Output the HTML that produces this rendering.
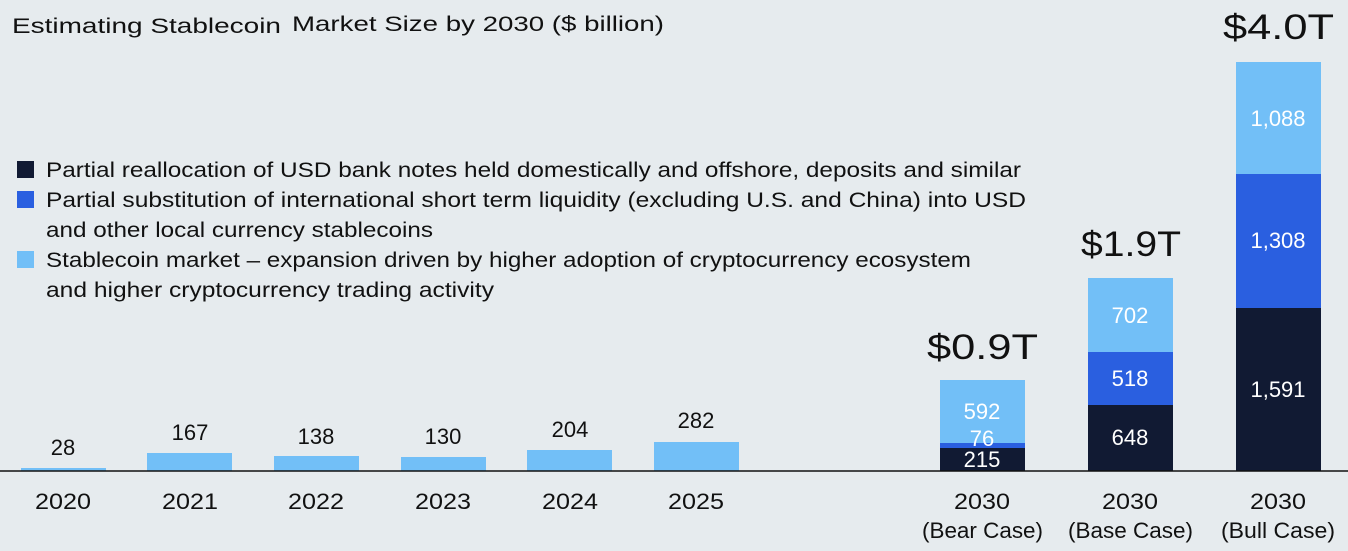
<!DOCTYPE html>
<html><head><style>
body{margin:0;background:#e6ebee;}
svg{display:block;font-family:"Liberation Sans",sans-serif;}
</style></head><body>
<svg width="1348" height="551" viewBox="0 0 1348 551">
<rect width="1348" height="551" fill="#e6ebee"/>
<text x="12" y="33" font-size="21" fill="#111" textLength="269" lengthAdjust="spacingAndGlyphs">Estimating Stablecoin</text>
<text x="292" y="31" font-size="21" fill="#111" textLength="372" lengthAdjust="spacingAndGlyphs">Market Size by 2030 ($ billion)</text>
<g font-size="21" fill="#111" lengthAdjust="spacingAndGlyphs">
<rect x="17" y="161" width="17" height="17" fill="#111a33"/>
<text x="46" y="177" textLength="975" lengthAdjust="spacingAndGlyphs">Partial reallocation of USD bank notes held domestically and offshore, deposits and similar</text>
<rect x="17" y="191" width="17" height="17" fill="#2a5fe0"/>
<text x="46" y="207" textLength="980" lengthAdjust="spacingAndGlyphs">Partial substitution of international short term liquidity (excluding U.S. and China) into USD</text>
<text x="46" y="237" textLength="387" lengthAdjust="spacingAndGlyphs">and other local currency stablecoins</text>
<rect x="17" y="251" width="17" height="17" fill="#72bff7"/>
<text x="46" y="267" textLength="925" lengthAdjust="spacingAndGlyphs">Stablecoin market – expansion driven by higher adoption of cryptocurrency ecosystem</text>
<text x="46" y="297" textLength="448" lengthAdjust="spacingAndGlyphs">and higher cryptocurrency trading activity</text>
</g>
<g fill="#72bff7">
<rect x="21" y="468" width="85" height="3"/>
<rect x="147" y="453" width="85" height="18"/>
<rect x="274" y="456" width="85" height="15"/>
<rect x="401" y="457" width="85" height="14"/>
<rect x="527" y="450" width="85" height="21"/>
<rect x="654" y="442" width="85" height="29"/>
</g>
<rect x="940" y="380" width="85" height="63" fill="#72bff7"/>
<rect x="940" y="443" width="85" height="5" fill="#2a5fe0"/>
<rect x="940" y="448" width="85" height="23" fill="#111a33"/>
<rect x="1088" y="278" width="85" height="74" fill="#72bff7"/>
<rect x="1088" y="352" width="85" height="53" fill="#2a5fe0"/>
<rect x="1088" y="405" width="85" height="66" fill="#111a33"/>
<rect x="1236" y="62" width="85" height="112" fill="#72bff7"/>
<rect x="1236" y="174" width="85" height="134" fill="#2a5fe0"/>
<rect x="1236" y="308" width="85" height="163" fill="#111a33"/>
<line x1="0" y1="471" x2="1348" y2="471" stroke="#111" stroke-width="1.5"/>
<g font-size="22" fill="#111" text-anchor="middle">
<text x="63" y="455">28</text>
<text x="190" y="440">167</text>
<text x="316" y="444">138</text>
<text x="443" y="444">130</text>
<text x="570" y="437">204</text>
<text x="696" y="428">282</text>
</g>
<g font-size="22" fill="#111">
<text x="35" y="509" textLength="56" lengthAdjust="spacingAndGlyphs">2020</text>
<text x="162" y="509" textLength="56" lengthAdjust="spacingAndGlyphs">2021</text>
<text x="288" y="509" textLength="56" lengthAdjust="spacingAndGlyphs">2022</text>
<text x="415" y="509" textLength="56" lengthAdjust="spacingAndGlyphs">2023</text>
<text x="542" y="509" textLength="56" lengthAdjust="spacingAndGlyphs">2024</text>
<text x="668" y="509" textLength="56" lengthAdjust="spacingAndGlyphs">2025</text>
<text x="954" y="509" textLength="56" lengthAdjust="spacingAndGlyphs">2030</text>
<text x="1102" y="509" textLength="56" lengthAdjust="spacingAndGlyphs">2030</text>
<text x="1250" y="509" textLength="56" lengthAdjust="spacingAndGlyphs">2030</text>
<text x="922" y="538" textLength="121" lengthAdjust="spacingAndGlyphs">(Bear Case)</text>
<text x="1068" y="538" textLength="125" lengthAdjust="spacingAndGlyphs">(Base Case)</text>
<text x="1221" y="538" textLength="114" lengthAdjust="spacingAndGlyphs">(Bull Case)</text>
</g>
<g font-size="22" fill="#fff" text-anchor="middle">
<text x="982" y="419">592</text>
<text x="982" y="446">76</text>
<text x="982" y="467">215</text>
<text x="1130" y="323">702</text>
<text x="1130" y="386">518</text>
<text x="1130" y="445">648</text>
<text x="1278" y="126">1,088</text>
<text x="1278" y="248">1,308</text>
<text x="1278" y="397">1,591</text>
</g>
<g font-size="35" fill="#111">
<text x="927" y="359" textLength="111" lengthAdjust="spacingAndGlyphs">$0.9T</text>
<text x="1081" y="256" textLength="100" lengthAdjust="spacingAndGlyphs">$1.9T</text>
<text x="1223" y="39" textLength="111" lengthAdjust="spacingAndGlyphs">$4.0T</text>
</g>
</svg>
</body></html>
